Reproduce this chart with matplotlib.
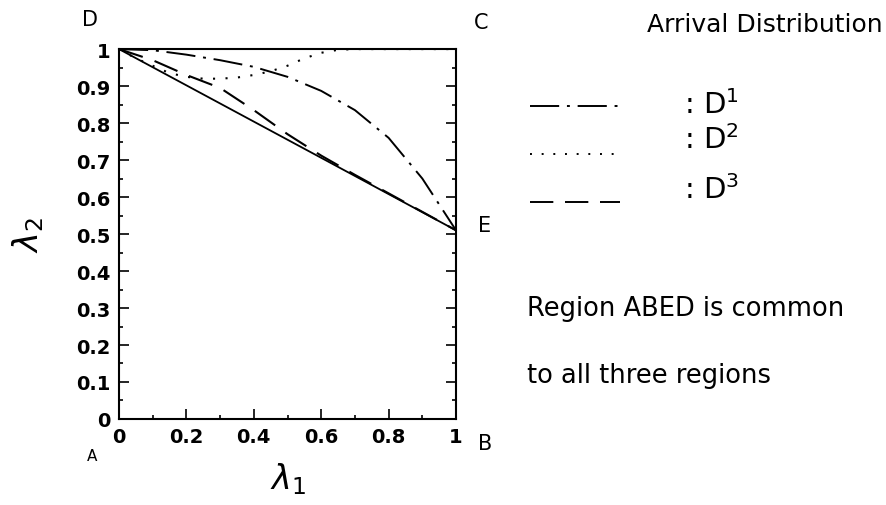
import matplotlib
matplotlib.use("Agg")
import matplotlib.pyplot as plt
from matplotlib.ticker import MultipleLocator

# curves (lambda1 -> lambda2)
lam1_d1 = [0, 0.1, 0.2, 0.3, 0.4, 0.5, 0.6, 0.7, 0.8, 0.9, 0.95, 1.0]
lam2_d1 = [1.0, 0.997, 0.985, 0.97, 0.952, 0.925, 0.887, 0.835, 0.76, 0.65, 0.58, 0.51]

lam1_d2 = [0, 0.05, 0.1, 0.15, 0.2, 0.25, 0.3, 0.35, 0.4, 0.45, 0.5, 0.55,
           0.6, 0.65, 0.7, 0.8, 0.9, 1.0]
lam2_d2 = [1.0, 0.975, 0.955, 0.935, 0.925, 0.92, 0.92, 0.923, 0.93, 0.94,
           0.955, 0.975, 0.99, 0.998, 1.0, 1.0, 1.0, 1.0]

lam1_d3 = [0, 0.1, 0.2, 0.3, 0.4, 0.5, 0.6, 0.7, 0.8, 0.9, 1.0]
lam2_d3 = [1.0, 0.97, 0.93, 0.895, 0.835, 0.77, 0.712, 0.66, 0.61, 0.56, 0.51]

lam1_ab = [0, 1]
lam2_ab = [1.0, 0.51]

xticks = [0, 0.2, 0.4, 0.6, 0.8, 1]
xticklabels = ["0", "0.2", "0.4", "0.6", "0.8", "1"]
yticks = [0, 0.1, 0.2, 0.3, 0.4, 0.5, 0.6, 0.7, 0.8, 0.9, 1]
yticklabels = ["0", "0.1", "0.2", "0.3", "0.4", "0.5", "0.6", "0.7", "0.8", "0.9", "1"]

plt.rcParams["font.family"] = ["DejaVu Sans"]

W, H = 886, 506
def fx(px):
    return px / W
def fy(py):
    return 1 - py / H

fig = plt.figure(figsize=(8.86, 5.06), dpi=100)
ax = fig.add_axes([0.1343, 0.17, 0.3804, 0.731])

dashdot = (15, 4, 1.5, 4)
dotted = (1, 5)
dashed = (12, 6)

ax.plot(lam1_ab, lam2_ab, color="black", lw=1.3)
ax.plot(lam1_d1, lam2_d1, color="black", lw=1.4, dashes=dashdot)
ax.plot(lam1_d2, lam2_d2, color="black", lw=1.5, dashes=dotted)
ax.plot(lam1_d3, lam2_d3, color="black", lw=1.5, dashes=dashed)

ax.set_xlim(0, 1)
ax.set_ylim(0, 1)
ax.set_xticks(xticks)
ax.set_xticklabels(xticklabels)
ax.set_yticks(yticks)
ax.set_yticklabels(yticklabels)
ax.xaxis.set_minor_locator(MultipleLocator(0.1))
ax.yaxis.set_minor_locator(MultipleLocator(0.05))
ax.tick_params(which="both", direction="in", right=True, top=False, width=1.2)
ax.tick_params(which="major", length=7, labelsize=14, pad=6)
ax.tick_params(which="minor", length=3)
for lab in ax.get_xticklabels() + ax.get_yticklabels():
    lab.set_fontweight("bold")
for s in ax.spines.values():
    s.set_linewidth(1.5)

ax.set_xlabel(r"$\lambda_1$", fontsize=24, labelpad=10)
ax.set_ylabel(r"$\lambda_2$", fontsize=24, labelpad=22)

# corner labels
fig.text(fx(90), fy(20), "D", fontsize=15, ha="center", va="center")
fig.text(fx(481), fy(23), "C", fontsize=15, ha="center", va="center")
fig.text(fx(485), fy(226), "E", fontsize=15, ha="center", va="center")
fig.text(fx(485), fy(444), "B", fontsize=15, ha="center", va="center")
fig.text(fx(92), fy(457), "A", fontsize=11, ha="center", va="center")

# legend drawn by hand on the right
fig.text(fx(765), fy(25), "Arrival Distribution", fontsize=18,
         ha="center", va="center")
leg_styles = [dashdot, dotted, dashed]
leg_names = [r": D$^1$", r": D$^2$", r": D$^3$"]
leg_line_y = [107, 155, 203]
leg_text_y = [105, 140, 190]
for st, name, ly, ty in zip(leg_styles, leg_names, leg_line_y, leg_text_y):
    fig.add_artist(plt.Line2D([fx(530), fx(620)], [fy(ly), fy(ly)],
                              color="black", lw=1.4, dashes=st))
    fig.text(fx(684), fy(ty), name, fontsize=21, ha="left", va="center")

fig.text(fx(527), fy(309), "Region ABED is common", fontsize=18.5,
         ha="left", va="center")
fig.text(fx(527), fy(376), "to all three regions", fontsize=18.5,
         ha="left", va="center")

fig.savefig("out.png", dpi=100)
